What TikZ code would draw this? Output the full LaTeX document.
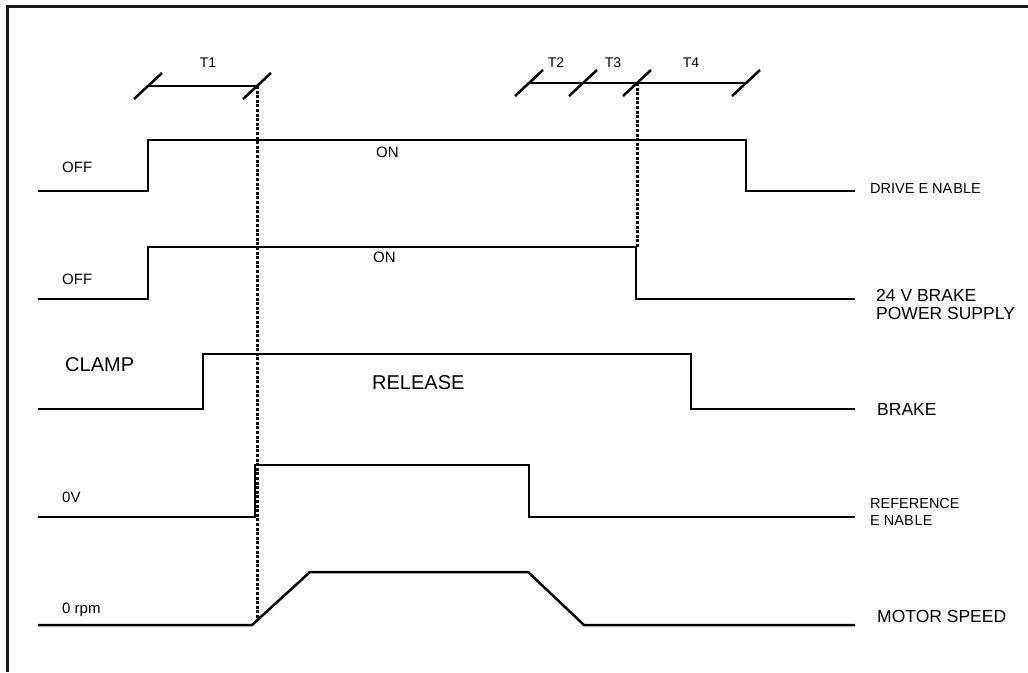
\documentclass[tikz,border=0pt]{standalone}
\usepackage{fontspec}
\setmainfont{Liberation Sans}
\begin{document}
\begin{tikzpicture}[x=1pt,y=-1pt,
  sig/.style={line width=2.5pt, line join=miter},
  dots/.style={line width=3pt, dash pattern=on 3pt off 1.6pt},
  frame/.style={line width=2.5pt, black!90},
  lbl/.style={inner sep=0pt, anchor=west, font=\fontsize{15}{18}\selectfont},
  biglbl/.style={inner sep=0pt, anchor=west, font=\fontsize{20}{24}\selectfont},
  rlbl/.style={inner sep=0pt, anchor=west, font=\fontsize{17.5}{21}\selectfont},
  slbl/.style={inner sep=0pt, anchor=west, font=\fontsize{14.5}{17}\selectfont},
  tlbl/.style={inner sep=0pt, font=\fontsize{14}{16}\selectfont}]
\useasboundingbox (0,0) rectangle (1028,672);
% frame (top and left only visible)
\draw[frame] (7.5,672) -- (7.5,6.5) -- (1028,6.5);

% timing bars
\coordinate (t1a) at (148,86);
\coordinate (t1b) at (257,86);
\coordinate (t2a) at (529,83);
\coordinate (t2b) at (583,83);
\coordinate (t2c) at (637,83);
\coordinate (t2d) at (746,83);
\draw[sig] (t1a) -- (t1b);
\draw[sig] (t2a) -- (t2d);
\foreach \c in {t1a,t1b,t2a,t2b,t2c,t2d}
  \draw[sig] ([shift={(-14,13)}]\c) -- ([shift={(14,-13)}]\c);
\node[tlbl] (T1) at (208,63) {T1};
\node[tlbl] (T2) at (556,63) {T2};
\node[tlbl] (T3) at (613,63) {T3};
\node[tlbl] (T4) at (691,63) {T4};

% dotted guide lines
\coordinate (d1end) at (257,621);
\coordinate (d2end) at (637,247);
\draw[dots] (t1b) -- (d1end);
\draw[dots] (t2c) -- (d2end);

% signals
\draw[sig] (38,191) -- (148,191) -- (148,140) -- (746,140) -- (746,191) -- (855,191);
\draw[sig] (38,299) -- (148,299) -- (148,247) -- (636,247) -- (636,299) -- (855,299);
\draw[sig] (38,409) -- (203,409) -- (203,354) -- (691,354) -- (691,409) -- (855,409);
\draw[sig] (38,517) -- (255,517) -- (255,465) -- (529,465) -- (529,517) -- (855,517);
\draw[sig] (38,625) -- (252,625) -- (310,572) -- (528,572) -- (584,625) -- (855,625);

% left / inner labels
\node[lbl] (off1) at (62,167) {OFF};
\node[lbl] (on1) at (376,152) {ON};
\node[lbl] (off2) at (62,279) {OFF};
\node[lbl] (on2) at (373,257) {ON};
\node[biglbl] (clamp) at (65,365) {CLAMP};
\node[biglbl] (release) at (372,383) {RELEASE};
\node[lbl] (zv) at (62,497) {0V};
\node[lbl, anchor=base west] (zrpm) at (62,613) {0 rpm};

% right labels
\node[slbl] (de) at (870,189) {DRIVE E NA\kern1pt BLE};
\node[rlbl] (bp1) at (876,295) {24 V BRAKE};
\node[rlbl] (bp2) at (876,313) {POWER SUPPLY};
\node[rlbl] (brake) at (877,409) {BRAKE};
\node[slbl] (ref1) at (870,504) {REFERENCE};
\node[slbl] (ref2) at (870,521) {E NAB\kern1pt LE};
\node[rlbl] (ms) at (877,616) {MOTOR SPEED};
\end{tikzpicture}
\end{document}
